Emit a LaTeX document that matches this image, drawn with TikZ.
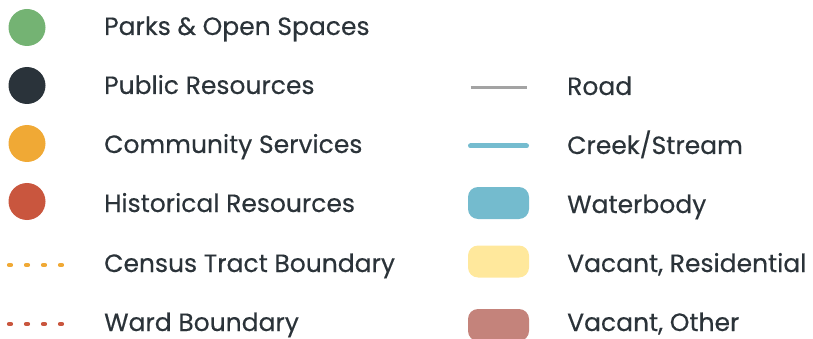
\documentclass[tikz,border=0pt]{standalone}
\usepackage{fontspec}
\setmainfont{Poppins}[FakeBold=0.35]
\definecolor{inkgray}{HTML}{2B3339}
\definecolor{parkgreen}{HTML}{74B373}
\definecolor{publicdark}{HTML}{2A333A}
\definecolor{serviceorange}{HTML}{F0A935}
\definecolor{historicred}{HTML}{C9563E}
\definecolor{roadgray}{HTML}{A3A3A3}
\definecolor{creekblue}{HTML}{75BCCF}
\definecolor{waterblue}{HTML}{74BBCE}
\definecolor{vacantyellow}{HTML}{FFE89C}
\definecolor{vacantrose}{HTML}{C4837B}
\tikzset{
  lbl/.style={anchor=base west, inner sep=0pt, text=inkgray, font=\fontsize{25}{30}\selectfont},
  dot/.style={circle, inner sep=0pt, minimum size=37pt},
  swatch/.style={rounded corners=10pt, inner sep=0pt, minimum width=61pt, minimum height=32pt},
  dotline/.style={line width=4.2pt, line cap=round, dash pattern=on 2pt off 15pt},
}
\begin{document}
\begin{tikzpicture}[x=1pt,y=-1pt]
\useasboundingbox (0,0) rectangle (813,339);
% point symbols
\node[dot, fill=parkgreen]     (d1) at (27,27.5) {};
\node[dot, fill=publicdark]    (d2) at (27,85.5) {};
\node[dot, fill=serviceorange] (d3) at (27,143.5) {};
\node[dot, fill=historicred]   (d4) at (27,201.5) {};
% boundary lines
\coordinate (c1a) at (9,265); \coordinate (c1b) at (64,265);
\draw[dotline, serviceorange] (c1a) -- (c1b);
\coordinate (c2a) at (9,324); \coordinate (c2b) at (64,324);
\draw[dotline, historicred] (c2a) -- (c2b);
% left labels
\node[lbl] (t1) at (104,35)  {Parks \& Open Spaces};
\node[lbl] (t2) at (104,94)  {Public Resources};
\node[lbl] (t3) at (104,153) {Community Services};
\node[lbl] (t4) at (104,212) {Historical Resources};
\node[lbl] (t5) at (104,272) {Census Tract Boundary};
\node[lbl] (t6) at (104,331) {Ward Boundary};
% line symbols
\coordinate (r1) at (470.5,87.5); \coordinate (r2) at (526.5,87.5);
\draw[roadgray, line width=3pt] (r1) -- (r2);
\coordinate (k1) at (470.5,146); \coordinate (k2) at (526.5,146);
\draw[creekblue, line width=5pt, line cap=round] (k1) -- (k2);
% area swatches
\node[swatch, fill=waterblue]    (s1) at (498.5,203) {};
\node[swatch, fill=vacantyellow] (s2) at (498.5,261.5) {};
\node[swatch, fill=vacantrose]   (s3) at (498.5,325) {};
% right labels
\node[lbl] (u1) at (567,95)  {Road};
\node[lbl] (u2) at (567,154) {Creek/Stream};
\node[lbl] (u3) at (567,213) {Waterbody};
\node[lbl] (u4) at (567,272) {Vacant, Residential};
\node[lbl] (u5) at (567,331) {Vacant, Other};
\end{tikzpicture}
\end{document}
